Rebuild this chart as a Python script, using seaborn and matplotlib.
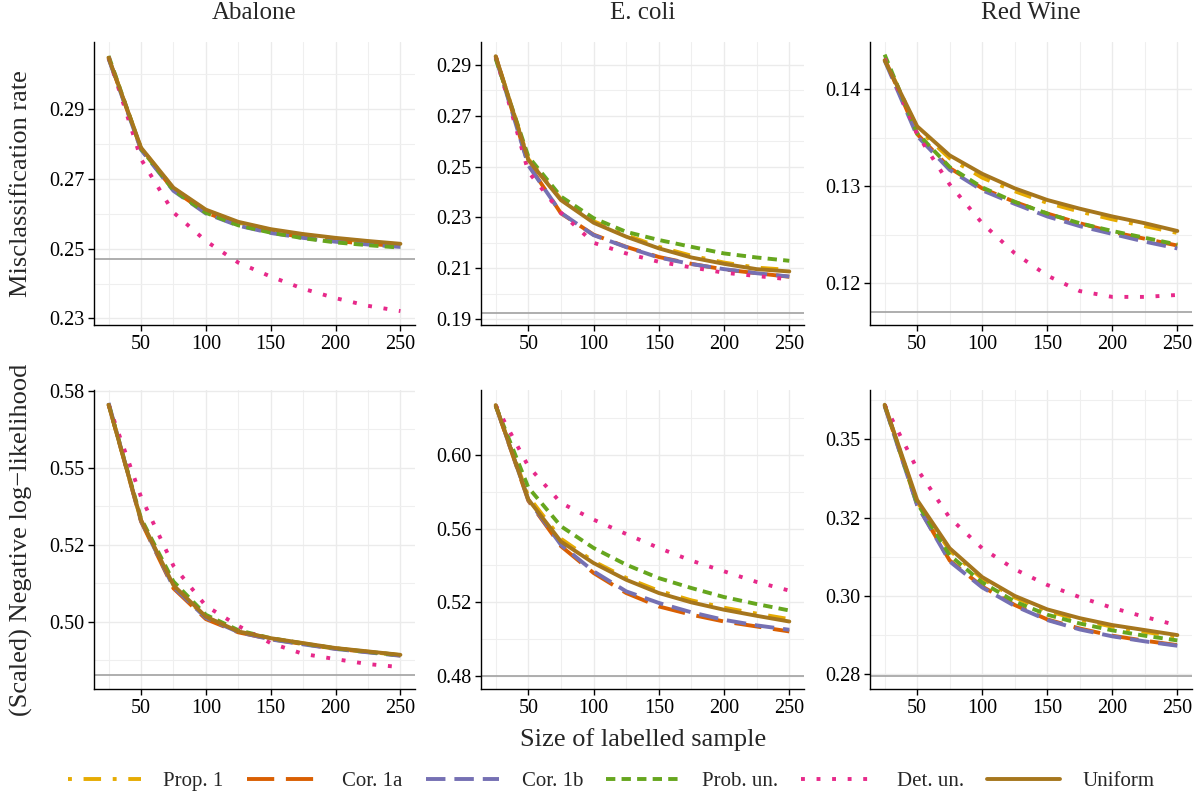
import numpy as np
import pandas as pd
import matplotlib
matplotlib.use("Agg")
import matplotlib.pyplot as plt
import seaborn as sns
from matplotlib.ticker import FixedLocator, FixedFormatter

# --- data -------------------------------------------------------------
datasets = ["Abalone", "E. coli", "Red Wine"]
methods = ["Prop. 1", "Cor. 1a", "Cor. 1b", "Prob. un.", "Det. un.", "Uniform"]
sizes = [25, 50, 75, 100, 125, 150, 175, 200, 225, 250]

# misclassification rate, one row per method (same order as `methods`)
abalone_err = [
    [0.3050, 0.2789, 0.2673, 0.2610, 0.2575, 0.2554, 0.2540, 0.2529, 0.2520, 0.2512],
    [0.3047, 0.2786, 0.2668, 0.2604, 0.2568, 0.2548, 0.2533, 0.2522, 0.2514, 0.2507],
    [0.3045, 0.2784, 0.2666, 0.2601, 0.2566, 0.2545, 0.2531, 0.2520, 0.2512, 0.2505],
    [0.3053, 0.2787, 0.2668, 0.2603, 0.2567, 0.2546, 0.2530, 0.2518, 0.2510, 0.2503],
    [0.3050, 0.2757, 0.2604, 0.2522, 0.2460, 0.2420, 0.2385, 0.2358, 0.2336, 0.2321],
    [0.3048, 0.2790, 0.2675, 0.2612, 0.2577, 0.2556, 0.2542, 0.2531, 0.2522, 0.2514],
]
ecoli_err = [
    [0.2935, 0.2530, 0.2372, 0.2285, 0.2230, 0.2184, 0.2149, 0.2122, 0.2102, 0.2093],
    [0.2935, 0.2510, 0.2316, 0.2232, 0.2184, 0.2144, 0.2117, 0.2095, 0.2080, 0.2066],
    [0.2930, 0.2505, 0.2318, 0.2230, 0.2183, 0.2142, 0.2116, 0.2096, 0.2080, 0.2067],
    [0.2925, 0.2540, 0.2382, 0.2297, 0.2243, 0.2211, 0.2184, 0.2158, 0.2142, 0.2129],
    [0.2935, 0.2480, 0.2318, 0.2200, 0.2158, 0.2125, 0.2103, 0.2082, 0.2069, 0.2056],
    [0.2935, 0.2526, 0.2368, 0.2279, 0.2224, 0.2178, 0.2142, 0.2117, 0.2096, 0.2087],
]
redwine_err = [
    [0.1432, 0.1360, 0.1329, 0.1309, 0.1295, 0.1283, 0.1274, 0.1266, 0.1259, 0.1252],
    [0.1432, 0.1354, 0.1319, 0.1298, 0.1284, 0.1272, 0.1262, 0.1253, 0.1246, 0.1239],
    [0.1430, 0.1352, 0.1317, 0.1296, 0.1282, 0.1269, 0.1259, 0.1251, 0.1243, 0.1236],
    [0.1436, 0.1355, 0.1320, 0.1299, 0.1284, 0.1272, 0.1262, 0.1254, 0.1247, 0.1240],
    [0.1432, 0.1354, 0.1302, 0.1262, 0.1231, 0.1208, 0.1192, 0.1186, 0.1186, 0.1188],
    [0.1430, 0.1362, 0.1332, 0.1313, 0.1298, 0.1286, 0.1277, 0.1269, 0.1262, 0.1254],
]

# (scaled) negative log-likelihood
abalone_nll = [
    [0.5706, 0.5328, 0.5115, 0.5014, 0.4968, 0.4945, 0.4929, 0.4913, 0.4902, 0.4891],
    [0.5706, 0.5325, 0.5108, 0.5008, 0.4965, 0.4943, 0.4927, 0.4912, 0.4901, 0.4890],
    [0.5710, 0.5327, 0.5112, 0.5012, 0.4966, 0.4942, 0.4926, 0.4911, 0.4900, 0.4889],
    [0.5706, 0.5335, 0.5130, 0.5022, 0.4972, 0.4946, 0.4929, 0.4913, 0.4902, 0.4891],
    [0.5704, 0.5405, 0.5181, 0.5051, 0.4986, 0.4930, 0.4895, 0.4878, 0.4862, 0.4852],
    [0.5704, 0.5330, 0.5118, 0.5016, 0.4968, 0.4946, 0.4930, 0.4914, 0.4903, 0.4892],
]
ecoli_nll = [
    [0.6268, 0.5775, 0.5545, 0.5422, 0.5332, 0.5262, 0.5210, 0.5170, 0.5138, 0.5108],
    [0.6270, 0.5752, 0.5505, 0.5359, 0.5250, 0.5177, 0.5132, 0.5095, 0.5068, 0.5041],
    [0.6270, 0.5757, 0.5512, 0.5368, 0.5259, 0.5196, 0.5145, 0.5104, 0.5074, 0.5050],
    [0.6268, 0.5824, 0.5613, 0.5495, 0.5404, 0.5331, 0.5277, 0.5228, 0.5190, 0.5155],
    [0.6272, 0.5939, 0.5740, 0.5649, 0.5571, 0.5495, 0.5426, 0.5368, 0.5310, 0.5263],
    [0.6272, 0.5759, 0.5530, 0.5413, 0.5322, 0.5250, 0.5199, 0.5159, 0.5126, 0.5095],
]
redwine_nll = [
    [0.3610, 0.3300, 0.3145, 0.3055, 0.2995, 0.2952, 0.2924, 0.2902, 0.2885, 0.2870],
    [0.3608, 0.3291, 0.3113, 0.3030, 0.2971, 0.2925, 0.2896, 0.2873, 0.2857, 0.2843],
    [0.3606, 0.3289, 0.3110, 0.3027, 0.2968, 0.2923, 0.2893, 0.2871, 0.2855, 0.2841],
    [0.3610, 0.3296, 0.3130, 0.3043, 0.2982, 0.2940, 0.2912, 0.2890, 0.2873, 0.2858],
    [0.3610, 0.3405, 0.3249, 0.3152, 0.3085, 0.3035, 0.2996, 0.2962, 0.2933, 0.2906],
    [0.3610, 0.3306, 0.3152, 0.3060, 0.3000, 0.2957, 0.2929, 0.2907, 0.2891, 0.2875],
]

# grey reference level per panel (row 0: error, row 1: nll)
ref_err = [0.2470, 0.1922, 0.1170]
ref_nll = [0.4825, 0.4800, 0.2746]

# y ticks and labels per panel
err_ticks = [[0.23, 0.25, 0.27, 0.29], [0.19, 0.21, 0.23, 0.25, 0.27, 0.29], [0.12, 0.13, 0.14]]
err_labels = [["0.23", "0.25", "0.27", "0.29"], ["0.19", "0.21", "0.23", "0.25", "0.27", "0.29"],
              ["0.12", "0.13", "0.14"]]
err_minor = [[0.24, 0.26, 0.28, 0.30], [0.20, 0.22, 0.24, 0.26, 0.28], [0.125, 0.135, 0.145]]
nll_ticks = [[0.50, 0.525, 0.55, 0.575], [0.48, 0.52, 0.56, 0.60], [0.275, 0.30, 0.325, 0.35]]
nll_labels = [["0.50", "0.52", "0.55", "0.58"], ["0.48", "0.52", "0.56", "0.60"],
              ["0.28", "0.30", "0.32", "0.35"]]
nll_minor = [[0.4875, 0.5125, 0.5375, 0.5625], [0.50, 0.54, 0.58, 0.62], [0.2875, 0.3125, 0.3375, 0.3625]]

x_major = [50, 100, 150, 200, 250]
x_minor = [25, 75, 125, 175, 225]

# --- style ------------------------------------------------------------
sns.set_theme(style="ticks")
plt.rcParams['font.family'] = ['Liberation Serif', 'DejaVu Serif']

palette = {"Prop. 1": "#E6AB02", "Cor. 1a": "#D95F02", "Cor. 1b": "#7570B3",
           "Prob. un.": "#66A61E", "Det. un.": "#E7298A", "Uniform": "#A6761D"}
dash_map = {"Prop. 1": (1, 3, 4.5, 3), "Cor. 1a": (7, 3), "Cor. 1b": (5, 2.3),
            "Prob. un.": (2.4, 1.6), "Det. un.": (1, 3), "Uniform": ""}

W, H = 1198, 792
col_px = [(94, 415), (481, 804), (870, 1192)]
row_px = [(42, 325), (390, 689)]
ylims = [[(0.2281, 0.3093), (0.1876, 0.2991), (0.1157, 0.1449)],
         [(0.4781, 0.5752), (0.4728, 0.6354), (0.2703, 0.3657)]]

rows = [
    ([abalone_err, ecoli_err, redwine_err], ref_err, err_ticks, err_labels, err_minor),
    ([abalone_nll, ecoli_nll, redwine_nll], ref_nll, nll_ticks, nll_labels, nll_minor),
]

fig = plt.figure(figsize=(W / 100, H / 100), dpi=100)
handles, labels = None, None

for r, (panels, refs, ticks, tlabels, minors) in enumerate(rows):
    for c, values in enumerate(panels):
        x0, x1 = col_px[c]
        y0, y1 = row_px[r]
        ax = fig.add_axes([x0 / W, 1 - y1 / H, (x1 - x0) / W, (y1 - y0) / H])

        df = pd.DataFrame({
            "size": np.tile(sizes, len(methods)),
            "value": np.concatenate(values),
            "method": np.repeat(methods, len(sizes)),
        })
        first = (r == 0 and c == 0)
        sns.lineplot(data=df, x="size", y="value", hue="method", style="method",
                     hue_order=methods, style_order=methods, palette=palette,
                     dashes=dash_map, linewidth=2.8, errorbar=None,
                     legend=first, ax=ax)
        if first:
            handles, labels = ax.get_legend_handles_labels()
            ax.get_legend().remove()

        ax.axhline(refs[c], color="#A8A8A8", lw=1.3, zorder=1.5)

        ax.set_xlim(13.75, 261.25)
        ax.set_ylim(*ylims[r][c])
        ax.xaxis.set_major_locator(FixedLocator(x_major))
        ax.xaxis.set_minor_locator(FixedLocator(x_minor))
        ax.yaxis.set_major_locator(FixedLocator(ticks[c]))
        ax.yaxis.set_major_formatter(FixedFormatter(tlabels[c]))
        ax.yaxis.set_minor_locator(FixedLocator(minors[c]))

        ax.grid(which="major", color="#EBEBEB", lw=1.0)
        ax.grid(which="minor", color="#EFEFEF", lw=0.8)
        ax.set_axisbelow(True)
        for side in ["top", "right"]:
            ax.spines[side].set_visible(False)
        for side in ["left", "bottom"]:
            ax.spines[side].set_color("black")
            ax.spines[side].set_linewidth(1.0)
        ax.tick_params(which="major", direction="out", length=4.5, width=1.0,
                       color="black", labelcolor="black", labelsize=14.5, pad=2.5)
        ax.tick_params(which="minor", length=0)
        ax.set_xlabel("")
        ax.set_ylabel("")

        if r == 0:
            fig.text((x0 + x1) / 2 / W, 1 - 13 / H, datasets[c], ha="center",
                     va="center", fontsize=18)

fig.text(21 / W, 1 - (42 + 325) / 2 / H, "Misclassification rate", rotation=90,
         ha="center", va="center", fontsize=19)
fig.text(21 / W, 1 - (390 + 689) / 2 / H, "(Scaled) Negative log\u2212likelihood",
         rotation=90, ha="center", va="center", fontsize=19)
fig.text(643 / W, 1 - 740 / H, "Size of labelled sample", ha="center",
         va="center", fontsize=19)

keep = [i for i, l in enumerate(labels) if l in methods]
fig.legend([handles[i] for i in keep], [labels[i] for i in keep],
           loc="center", bbox_to_anchor=(611 / W, 1 - 781 / H), ncol=6,
           frameon=False, handlelength=3.5, handletextpad=1.1,
           columnspacing=1.1, fontsize=15)

fig.savefig("out.png", dpi=100)
